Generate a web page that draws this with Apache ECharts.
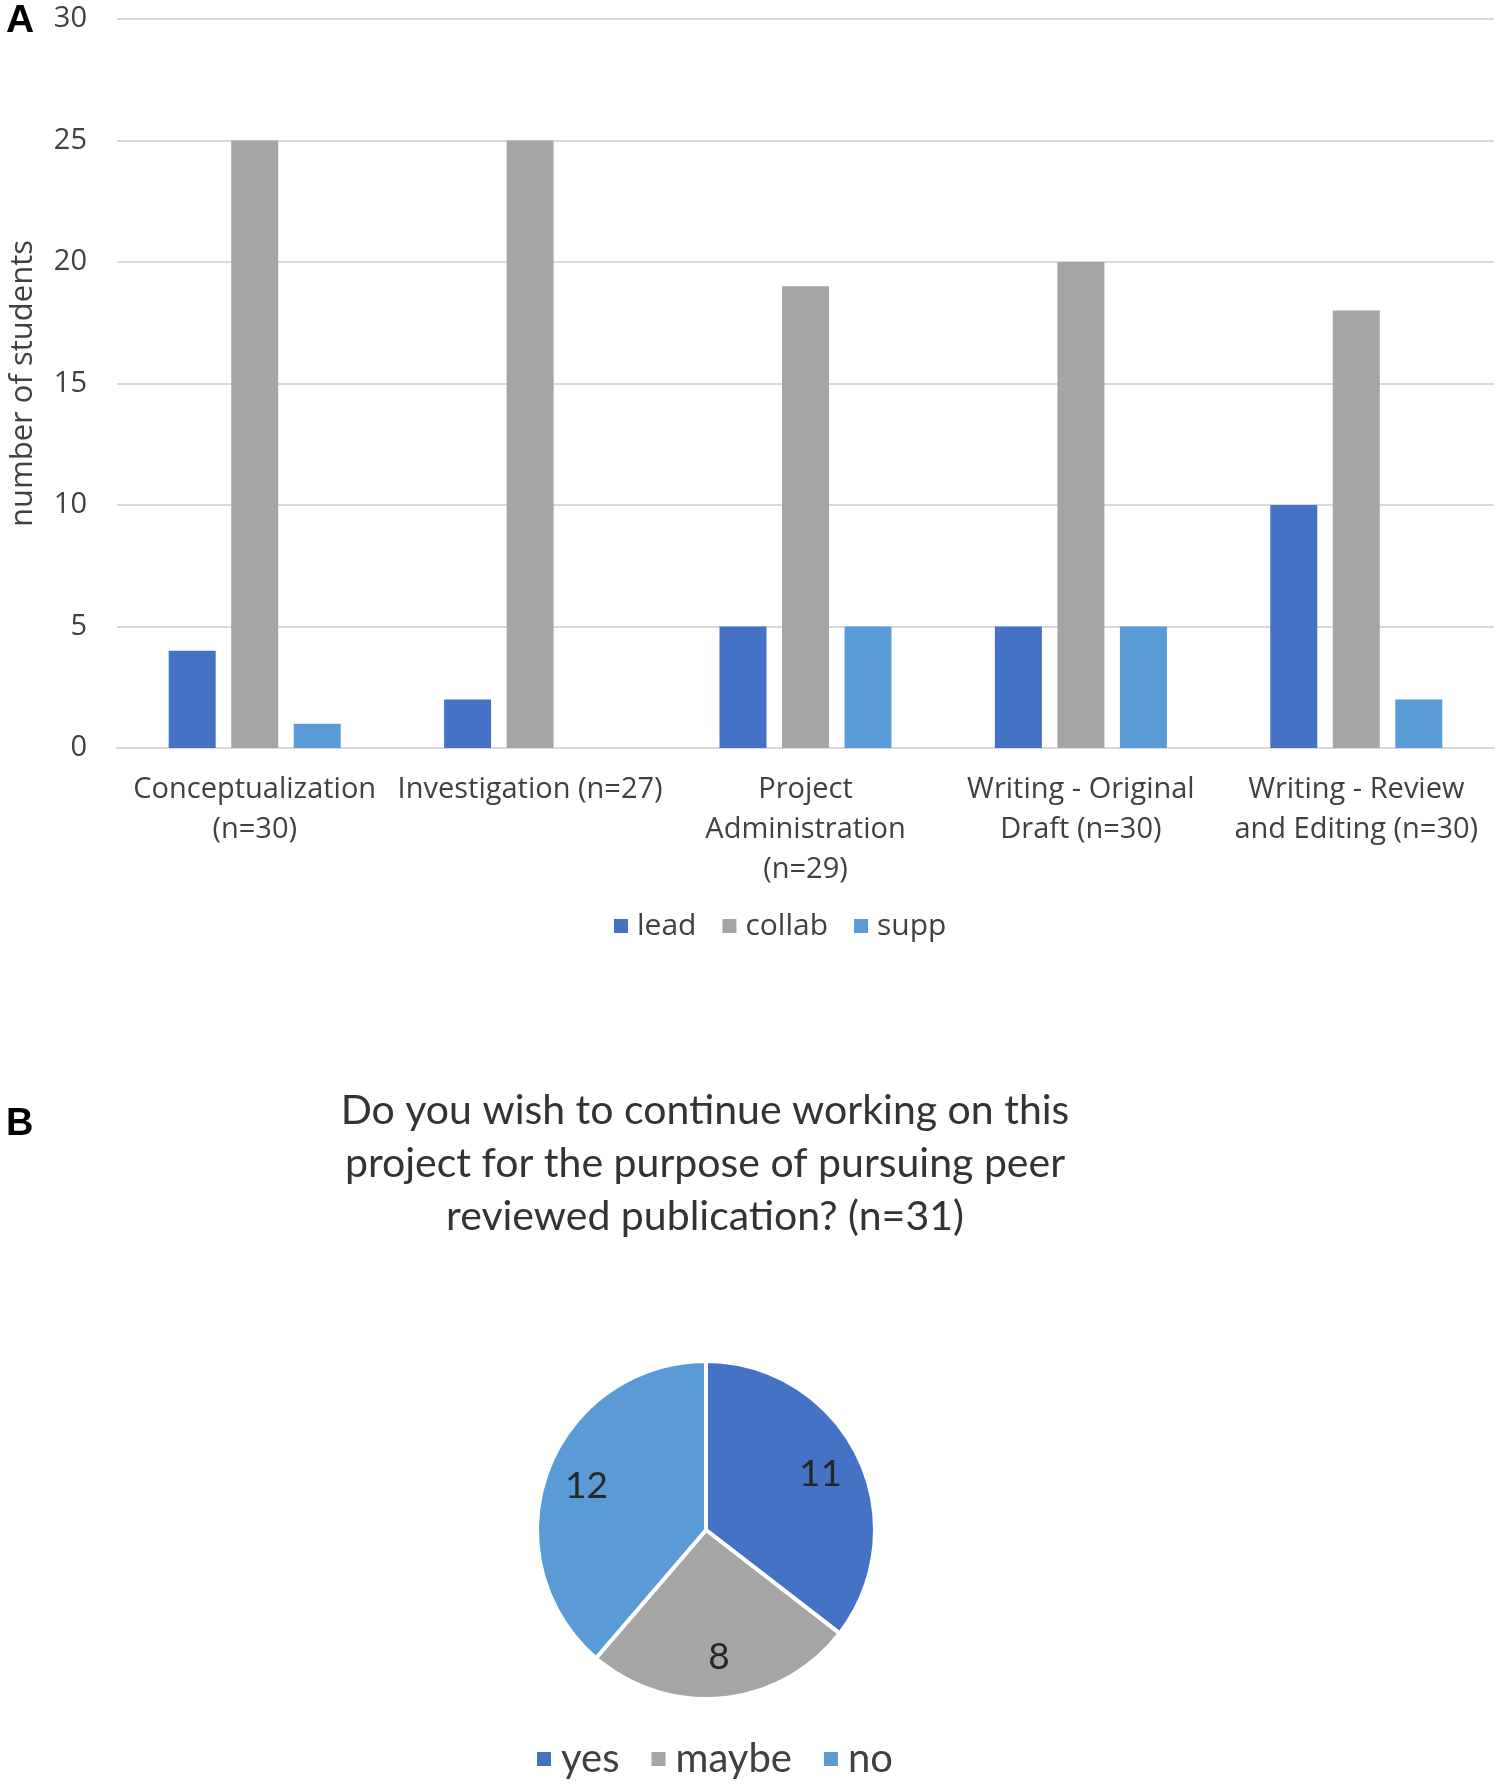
<!DOCTYPE html>
<html>
<head>
<meta charset="utf-8">
<script src="https://cdn.jsdelivr.net/npm/echarts@6/dist/echarts.min.js"></script>
<style>
html,body{margin:0;padding:0;background:#fff;}
#chart{width:1500px;height:1786px;}
</style>
</head>
<body>
<div id="chart"></div>
<script>
const categories = ['Conceptualization\n(n=30)', 'Investigation (n=27)', 'Project\nAdministration\n(n=29)', 'Writing - Original\nDraft (n=30)', 'Writing - Review\nand Editing (n=30)'];
const leadValues = [4, 2, 5, 5, 10];
const collabValues = [25, 25, 19, 20, 18];
const suppValues = [1, 0, 5, 5, 2];
const barSeriesNames = ['lead', 'collab', 'supp'];
const pieNames = ['yes', 'maybe', 'no'];
const pieValues = [11, 8, 12];
const pieTitle = 'Do you wish to continue working on this\nproject for the purpose of pursuing peer\nreviewed publication? (n=31)';
const yAxisName = 'number of students';

const colors = { lead: '#4472C4', collab: '#A5A5A5', supp: '#5B9BD5' };
const pieColors = ['#4472C4', '#A5A5A5', '#5B9BD5'];
const FONT = 'Lato';
const AXFONT = 'Open Sans';
const TXT = '#404040';
const chart = echarts.init(document.getElementById('chart'));

const barData = [leadValues, collabValues, suppValues];
const pieData = pieNames.map((n, i) => ({ name: n, value: pieValues[i], itemStyle: { color: pieColors[i] } }));

chart.setOption({
  backgroundColor: '#fff',
  animation: false,
  textStyle: { fontFamily: FONT },
  graphic: [
    { type: 'text', left: 6, top: 2, style: { text: 'A', fontSize: 39, fontWeight: 'bold', fontFamily: 'Liberation Sans', fill: '#000' } },
    { type: 'text', left: 6, top: 1106, style: { text: 'B', fontSize: 38, fontWeight: 'bold', fontFamily: 'Liberation Sans', fill: '#000' } },
    { type: 'text', x: 705, y: 1084, style: { text: pieTitle, fontSize: 41, lineHeight: 53, fontFamily: FONT, fill: '#333333', align: 'center', verticalAlign: 'top' } }
  ],
  legend: [
    {
      data: barSeriesNames,
      left: 609, top: 906,
      itemWidth: 14, itemHeight: 14, itemGap: 26,
      icon: 'rect',
      textStyle: { fontSize: 30, color: TXT, fontFamily: AXFONT, padding: [0, 0, 0, 4] }
    },
    {
      data: pieNames,
      left: 530, top: 1734,
      itemWidth: 16, itemHeight: 16, itemGap: 30,
      icon: 'rect',
      textStyle: { fontSize: 40, color: TXT, fontFamily: FONT, padding: [0, 0, 0, 4] }
    }
  ],
  grid: { left: 113, right: 6, top: 19, height: 729 },
  xAxis: {
    type: 'category',
    data: categories,
    axisTick: { show: false },
    axisLine: { lineStyle: { color: '#d9d9d9', width: 2 } },
    axisLabel: { interval: 0, margin: 22, fontSize: 29, lineHeight: 40, color: TXT, fontFamily: AXFONT }
  },
  yAxis: {
    type: 'value',
    min: 0, max: 30, interval: 5,
    name: yAxisName,
    nameLocation: 'middle',
    nameGap: 78,
    nameTextStyle: { fontSize: 31, color: TXT, fontFamily: AXFONT },
    axisLine: { show: false },
    axisTick: { show: false },
    splitLine: { lineStyle: { color: '#d9d9d9', width: 2 } },
    axisLabel: { margin: 30, fontSize: 29, color: TXT, fontFamily: AXFONT }
  },
  series: [
    ...barSeriesNames.map((n, i) => ({
      name: n,
      type: 'bar',
      data: barData[i],
      barWidth: 47,
      barGap: '33%',
      itemStyle: { color: colors[n] }
    })),
    {
      name: 'pie',
      type: 'pie',
      center: [706, 1530],
      radius: 169,
      startAngle: 90,
      clockwise: true,
      data: pieData,
      label: { show: false },
      labelLine: { show: false },
      itemStyle: { borderColor: '#fff', borderWidth: 4 },
      emphasis: { disabled: true }
    },
    {
      name: 'pieLabels',
      type: 'pie',
      center: [706, 1530],
      radius: [80, 169],
      startAngle: 90,
      clockwise: true,
      silent: true,
      data: pieNames.map((n, i) => ({ name: n, value: pieValues[i] })),
      itemStyle: { color: 'rgba(0,0,0,0)' },
      label: { show: true, position: 'inside', formatter: '{c}', fontSize: 37, color: '#262626', fontFamily: FONT },
      labelLine: { show: false },
      emphasis: { disabled: true }
    }
  ]
});
</script>
</body>
</html>
